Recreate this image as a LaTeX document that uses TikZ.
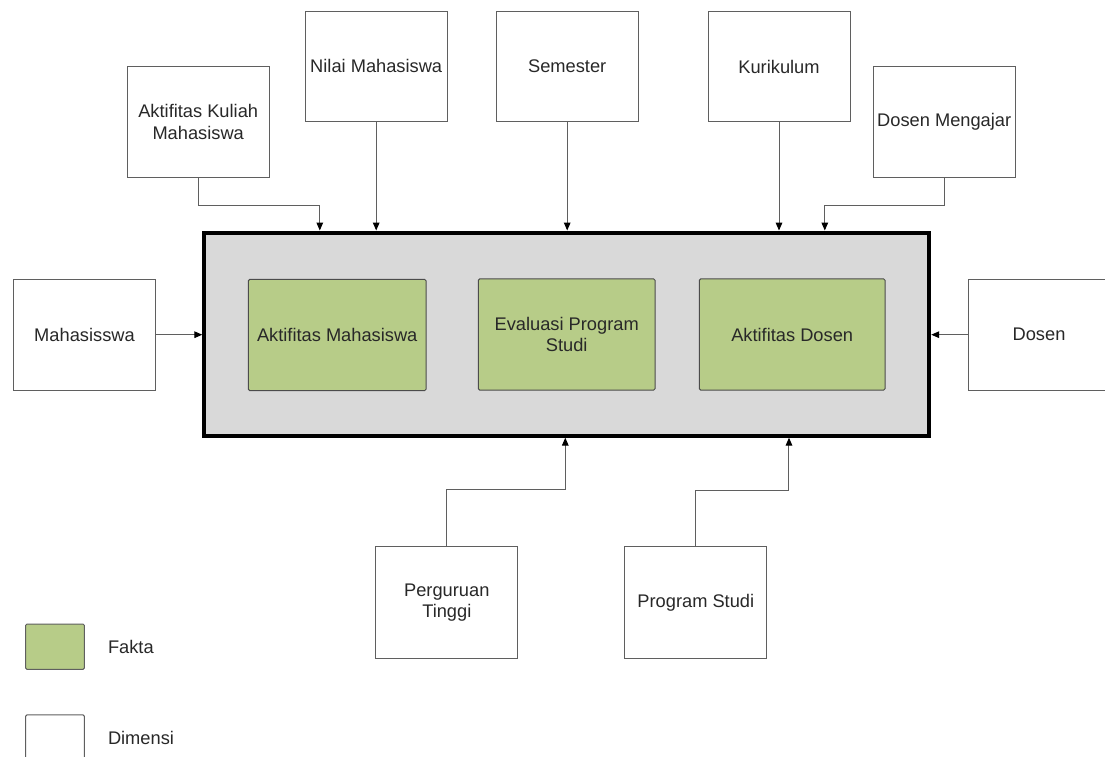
\documentclass[tikz,border=0pt]{standalone}
\usepackage{fontspec}
\setmainfont{Liberation Sans}
\usetikzlibrary{arrows.meta,positioning,calc}

\definecolor{faktagreen}{RGB}{183,204,136}
\definecolor{hubgray}{RGB}{217,217,217}
\definecolor{edgegray}{RGB}{95,95,95}
\definecolor{txtgray}{RGB}{40,40,40}

\tikzset{every picture/.style={line width=0.75pt}}
\tikzset{
  boxfont/.style={font=\fontsize{13.7}{16.3}\selectfont, text=txtgray},
  dimbox/.style={boxfont, draw=edgegray, fill=white, line width=0.75pt,
    minimum width=106.5pt, minimum height=82.5pt, align=center, inner sep=1pt},
  faktabox/.style={boxfont, draw=black!70, fill=faktagreen, line width=0.75pt,
    rounded corners=1pt, minimum height=83.3pt, align=center, inner sep=1pt},
  hubbox/.style={draw=black, fill=hubgray, line width=3pt,
    minimum width=543.7pt, minimum height=152.4pt},
  link/.style={draw=edgegray, line width=0.75pt,
    -{Triangle[length=6pt,width=5pt,color=black]}},
  legendbox/.style={draw=edgegray, line width=0.75pt, rounded corners=1pt,
    minimum width=44pt, minimum height=34pt},
  legendtext/.style={boxfont, inner sep=0pt}
}

\begin{document}
\begin{tikzpicture}[x=0.75pt,y=0.75pt,yscale=-1]
\clip (0,0) rectangle (1105,756);
\fill[white] (0,0) rectangle (1105,756);

%Shape: Rectangle [hub]
\node[hubbox] (hub) at (566.75,334.1) {};

% Fakta
\node[faktabox, minimum width=133.3pt] (aktmhs) at (337.2,335) {Aktifitas Mahasiswa};
\node[faktabox, minimum width=132.5pt] (evaps) at (566.7,334.5) {Evaluasi Program\\Studi};
\node[faktabox, minimum width=139.3pt] (aktdsn) at (792.2,334.5) {Aktifitas Dosen};

% Dimensi
\node[dimbox, minimum height=83.5pt] (akm) at (198.2,121.7) {Aktifitas Kuliah\\Mahasiswa};
\node[dimbox] (nilai) at (376.2,66.2) {Nilai Mahasiswa};
\node[dimbox] (sem) at (567.2,66.2) {Semester};
\node[dimbox] (kur) at (779,66.7) {Kurikulum};
\node[dimbox, minimum height=83.5pt] (dmg) at (944.2,121.7) {Dosen Mengajar};
\node[dimbox, minimum height=83pt] (mhs) at (84.5,334.7) {Mahasisswa};
\node[dimbox, minimum height=83pt] (dsn) at (1039,334.7) {Dosen};
\node[dimbox, minimum height=83.7pt] (pt) at (446.8,602.5) {Perguruan\\Tinggi};
\node[dimbox, minimum height=83.7pt] (ps) at (695.8,602.5) {Program Studi};

%Straight Lines
\draw[link] (akm.south) -- ++(0,28) -| ($(hub.north west)+(117.5,0)$);
\draw[link] (nilai) -- (nilai |- hub.north);
\draw[link] (sem) -- (sem |- hub.north);
\draw[link] (kur) -- (kur |- hub.north);
\draw[link] (dmg.south) -- ++(0,28) -| ($(hub.north west)+(622.5,0)$);
\draw[link] (mhs) -- (hub.west |- mhs);
\draw[link] (dsn) -- (hub.east |- dsn);
\draw[link] (pt.north) -- ++(0,-57) -| ($(hub.south west)+(363,0)$);
\draw[link] (ps.north) -- ++(0,-56) -| ($(hub.south west)+(586.7,0)$);

% Legend
\node[legendbox, fill=faktagreen] (lgfakta) at (55,646.7) {};
\node[legendbox, fill=white] (lgdim) at (55,737.5) {};
\node[legendtext, right=17pt of lgfakta] (txfakta) {Fakta};
\node[legendtext, right=17pt of lgdim] (txdim) {Dimensi};

\end{tikzpicture}
\end{document}
